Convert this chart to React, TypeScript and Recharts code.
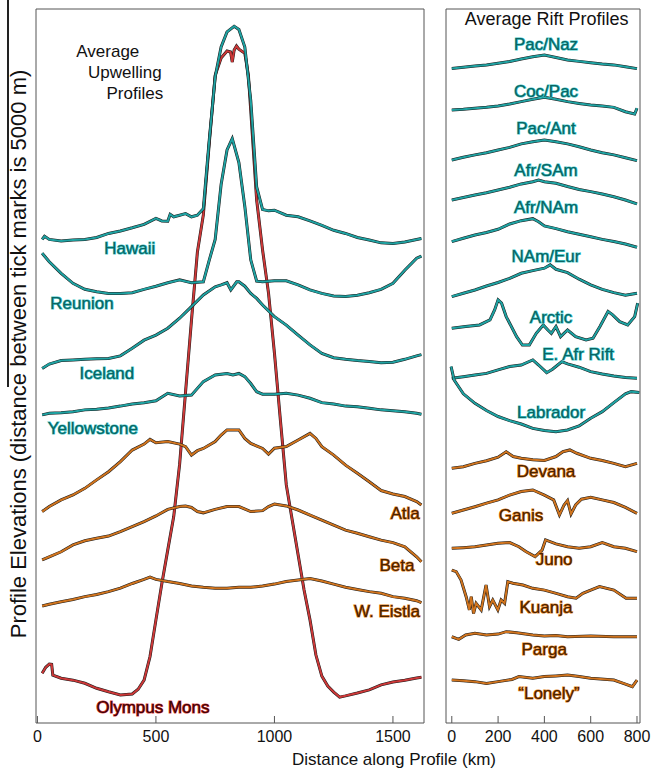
import { LineChart, Line, XAxis, YAxis, ReferenceDot, ReferenceLine } from "recharts";

type Pt = [number, number];

// elevations in km, already offset for stacking (left panel: 5 km between ticks)
const HAWAII: Pt[] = [[20,15.15],[30,15.25],[50,15.15],[100,15.10],[150,15.13],[200,15.15],[250,15.21],[300,15.34],[350,15.42],[400,15.52],[450,15.63],[500,15.82],[525,15.74],[550,15.73],[560,15.95],[575,15.87],[600,15.92],[625,15.97],[650,15.87],[675,15.92],[700,16.13],[725,18.31],[750,20.33],[775,21.28],[800,21.76],[830,21.94],[850,21.84],[875,21.28],[900,19.58],[925,16.82],[950,16.10],[975,16.06],[1000,16.08],[1050,15.92],[1100,15.87],[1150,15.74],[1200,15.60],[1250,15.44],[1300,15.34],[1350,15.21],[1400,15.13],[1450,15.04],[1500,15.02],[1550,15.07],[1600,15.15],[1620,15.18]];
const REUNION: Pt[] = [[20,14.71],[50,14.44],[100,14.07],[150,13.75],[200,13.56],[250,13.48],[300,13.43],[350,13.43],[400,13.45],[450,13.56],[500,13.66],[550,13.77],[600,13.86],[650,13.77],[700,13.80],[725,14.49],[750,15.15],[775,16.90],[800,18.00],[822,18.36],[850,17.60],[875,16.20],[900,14.50],[925,13.82],[950,13.80],[1000,13.83],[1050,13.83],[1100,13.70],[1150,13.54],[1200,13.43],[1250,13.35],[1300,13.33],[1350,13.37],[1400,13.45],[1450,13.56],[1500,13.75],[1550,14.17],[1600,14.55],[1620,14.62]];
const ICELAND: Pt[] = [[20,11.04],[50,11.18],[100,11.29],[150,11.31],[200,11.33],[250,11.35],[300,11.36],[350,11.44],[400,11.68],[450,11.94],[500,12.10],[550,12.32],[600,12.64],[650,13.01],[700,13.38],[750,13.64],[775,13.70],[800,13.77],[816,13.54],[841,13.80],[850,13.80],[875,13.66],[900,13.43],[925,13.27],[950,13.06],[1000,12.69],[1050,12.42],[1100,12.10],[1150,11.79],[1200,11.52],[1250,11.38],[1300,11.33],[1350,11.29],[1400,11.26],[1450,11.22],[1500,11.24],[1550,11.33],[1600,11.44],[1620,11.48]];
const YELLOWSTONE: Pt[] = [[20,9.56],[50,9.61],[100,9.63],[150,9.66],[200,9.72],[250,9.74],[300,9.78],[350,9.84],[400,9.91],[450,9.95],[500,10.01],[550,10.25],[600,10.16],[650,10.19],[700,10.62],[750,10.83],[800,10.88],[825,10.83],[850,10.88],[875,10.78],[900,10.56],[925,10.30],[950,10.22],[1000,10.22],[1050,10.25],[1100,10.19],[1150,10.09],[1200,9.95],[1250,9.91],[1300,9.84],[1350,9.82],[1400,9.77],[1450,9.72],[1500,9.69],[1550,9.66],[1600,9.61],[1620,9.58]];
const ATLA: Pt[] = [[20,6.48],[50,6.64],[100,6.85],[150,7.01],[200,7.22],[250,7.49],[300,7.75],[350,8.07],[400,8.44],[450,8.63],[475,8.78],[500,8.67],[550,8.71],[600,8.63],[625,8.55],[650,8.28],[675,8.42],[700,8.49],[750,8.71],[775,8.92],[800,9.08],[850,9.08],[875,8.81],[900,8.65],[950,8.49],[975,8.31],[1000,8.50],[1050,8.55],[1100,8.76],[1150,8.97],[1175,8.81],[1200,8.55],[1250,8.28],[1300,7.96],[1350,7.70],[1400,7.43],[1450,7.15],[1500,7.04],[1550,6.96],[1600,6.80],[1620,6.69]];
const BETA: Pt[] = [[20,4.94],[50,5.04],[100,5.20],[150,5.42],[200,5.55],[250,5.63],[300,5.70],[350,5.84],[400,6.00],[450,6.16],[500,6.34],[550,6.55],[600,6.64],[625,6.66],[650,6.61],[675,6.48],[700,6.44],[750,6.55],[800,6.64],[850,6.64],[900,6.48],[950,6.51],[975,6.64],[1000,6.72],[1050,6.66],[1100,6.53],[1150,6.37],[1200,6.21],[1250,6.05],[1300,5.89],[1350,5.79],[1400,5.68],[1450,5.57],[1500,5.49],[1550,5.36],[1600,5.04],[1620,4.88]];
const W_EISTLA: Pt[] = [[20,3.47],[50,3.53],[100,3.61],[150,3.68],[200,3.77],[250,3.84],[300,3.93],[350,4.04],[400,4.19],[450,4.32],[475,4.39],[500,4.32],[550,4.25],[600,4.19],[650,4.11],[700,4.07],[750,4.04],[800,4.04],[850,4.07],[900,4.07],[950,4.11],[1000,4.17],[1050,4.25],[1100,4.30],[1150,4.35],[1200,4.27],[1250,4.17],[1300,4.07],[1350,4.00],[1400,3.93],[1450,3.88],[1500,3.77],[1550,3.72],[1600,3.64],[1620,3.58]];
const OLYMPUS: Pt[] = [[20,1.33],[35,1.52],[50,1.62],[60,1.61],[65,1.27],[100,1.17],[150,1.11],[200,1.01],[250,0.85],[300,0.74],[350,0.64],[400,0.67],[425,0.82],[450,1.11],[475,1.86],[500,3.03],[525,4.19],[550,5.26],[575,6.32],[600,7.99],[625,10.29],[650,12.58],[675,14.75],[700,15.93],[725,18.22],[750,20.38],[775,20.93],[800,21.15],[815,21.12],[822,20.80],[830,21.18],[840,21.31],[850,21.21],[875,21.08],[890,20.38],[900,19.27],[925,16.40],[950,14.81],[975,13.44],[1000,11.53],[1025,9.40],[1050,7.33],[1075,6.21],[1100,5.10],[1125,3.98],[1150,3.03],[1175,1.91],[1200,1.24],[1225,0.92],[1250,0.73],[1275,0.57],[1300,0.61],[1350,0.70],[1400,0.80],[1450,0.96],[1500,1.05],[1550,1.11],[1600,1.18],[1620,1.20]];

// right panel (own vertical scale, 5 units between ticks)
const PAC_NAZ: Pt[] = [[0,29.75],[50,29.80],[100,29.86],[150,29.91],[200,29.98],[250,30.06],[300,30.18],[350,30.28],[400,30.36],[450,30.25],[500,30.13],[550,30.07],[600,30.01],[650,29.95],[700,29.91],[750,29.83],[800,29.74]];
const COC_PAC: Pt[] = [[0,27.86],[50,27.89],[100,27.94],[150,27.98],[200,28.04],[250,28.13],[300,28.24],[350,28.35],[400,28.44],[450,28.35],[500,28.24],[550,28.16],[600,28.09],[650,28.04],[700,27.98],[750,27.78],[790,27.68],[800,27.94]];
const PAC_ANT: Pt[] = [[0,25.59],[50,25.71],[100,25.82],[150,25.92],[200,26.04],[250,26.16],[300,26.32],[350,26.42],[400,26.50],[450,26.42],[500,26.32],[550,26.19],[600,26.04],[650,25.92],[700,25.82],[750,25.69],[800,25.56]];
const AFR_SAM: Pt[] = [[0,23.77],[50,23.88],[100,24.00],[150,24.10],[200,24.22],[250,24.35],[300,24.50],[350,24.60],[375,24.68],[400,24.60],[450,24.53],[500,24.38],[550,24.25],[600,24.15],[650,24.04],[700,23.92],[750,23.77],[800,23.59]];
const AFR_NAM: Pt[] = [[0,21.88],[50,22.03],[100,22.18],[150,22.29],[200,22.44],[250,22.68],[300,22.83],[350,22.92],[375,22.78],[400,22.59],[450,22.47],[500,22.33],[550,22.21],[600,22.10],[650,21.98],[700,21.88],[750,21.77],[800,21.62]];
const NAM_EUR: Pt[] = [[0,19.38],[50,19.53],[100,19.68],[150,19.86],[200,20.02],[250,20.21],[300,20.44],[350,20.56],[400,20.67],[425,20.82],[450,20.62],[500,20.47],[550,20.17],[600,19.91],[650,19.71],[700,19.56],[750,19.44],[800,19.53]];
const ARCTIC: Pt[] = [[0,17.94],[60,18.02],[120,18.09],[165,18.32],[185,18.77],[200,19.23],[215,19.08],[235,18.47],[280,17.56],[305,17.18],[335,17.18],[365,17.71],[395,18.09],[415,17.86],[430,17.71],[450,18.02],[470,17.56],[500,17.86],[535,17.56],[580,17.41],[610,17.49],[640,18.02],[675,18.70],[695,18.55],[725,18.24],[760,18.09],[790,18.47],[803,19.08]];
const E_AFR_RIFT: Pt[] = [[0,15.67],[50,15.74],[100,15.82],[150,15.89],[200,16.05],[250,16.20],[300,16.27],[350,16.50],[375,16.27],[410,15.92],[435,16.08],[475,16.42],[500,16.32],[550,16.17],[600,15.97],[650,15.86],[700,15.77],[750,15.70],[800,15.67]];
const LABRADOR: Pt[] = [[-3,16.20],[10,15.59],[50,14.96],[100,14.53],[150,14.20],[200,13.93],[250,13.74],[300,13.59],[350,13.39],[400,13.29],[450,13.24],[500,13.32],[550,13.50],[600,13.85],[650,14.15],[700,14.56],[750,14.96],[775,15.06],[810,15.02]];
const DEVANA: Pt[] = [[0,11.58],[50,11.65],[100,11.80],[150,11.92],[200,12.08],[235,12.33],[265,12.11],[300,12.03],[350,11.96],[400,11.93],[450,12.11],[480,12.33],[510,12.41],[540,12.26],[600,12.03],[650,11.93],[700,11.80],[750,11.65],[800,11.80]];
const GANIS: Pt[] = [[0,9.53],[50,9.68],[100,9.83],[150,9.99],[200,10.14],[250,10.36],[300,10.52],[350,10.59],[400,10.36],[440,10.14],[465,9.46],[485,9.91],[500,10.11],[515,9.50],[535,9.91],[560,10.17],[600,10.26],[650,10.14],[700,10.02],[750,9.80],[800,9.53]];
const JUNO: Pt[] = [[0,7.94],[50,7.97],[100,8.01],[150,8.09],[200,8.17],[250,8.20],[290,8.01],[320,7.79],[360,7.56],[390,7.86],[405,8.32],[450,8.14],[500,8.01],[550,7.94],[600,8.01],[650,8.20],[700,8.01],[750,7.94],[800,7.79]];
const KUANJA: Pt[] = [[0,6.95],[19,6.88],[40,6.50],[62,5.74],[76,5.14],[84,5.74],[94,4.98],[105,5.44],[127,5.14],[148,6.27],[163,5.29],[177,5.59],[199,5.14],[213,5.59],[228,5.44],[242,6.42],[264,6.35],[307,6.27],[350,6.12],[400,6.04],[451,5.89],[500,5.74],[537,5.67],[566,5.89],[600,6.04],[638,6.20],[700,6.04],[753,5.67],[800,5.67]];
const PARGA: Pt[] = [[0,3.92],[30,3.80],[60,4.00],[100,4.08],[150,4.00],[200,4.04],[235,4.15],[280,4.10],[350,4.00],[400,3.95],[450,3.98],[500,3.92],[600,3.95],[700,3.92],[800,3.92]];
const LONELY: Pt[] = [[0,1.95],[50,1.92],[100,1.88],[150,1.80],[200,1.88],[260,1.98],[290,2.11],[350,2.03],[400,2.11],[450,2.14],[500,2.18],[550,2.11],[600,2.03],[700,1.95],[750,1.77],[780,1.65],[800,1.95]];

const LEFT_X_TICKS = [0, 500, 1000, 1500];
const LEFT_TOP_TICKS = [113, 618, 1119];
const LEFT_Y_TICKS = [5, 10, 15, 20];
const RIGHT_X_TICKS = [0, 200, 400, 600, 800];
const RIGHT_Y_TICKS = [5, 10, 15, 20, 25, 30];

const LEFT_X_DOMAIN: [number, number] = [-6, 1631];
const LEFT_Y_DOMAIN: [number, number] = [-0.255, 22.49];
const RIGHT_X_DOMAIN: [number, number] = [-25, 813];
const RIGHT_Y_DOMAIN: [number, number] = [0, 32.45];

const TEAL = "#1fa2a2";
const BROWN = "#d0741e";
const RED = "#cc3838";
const FONT = "'Liberation Sans', Arial, sans-serif";

const TEXT_STYLE: Record<string, { fill: string; halo: string }> = {
  teal: { fill: "#0b6363", halo: "#3fc8c8" },
  brown: { fill: "#4a2200", halo: "#e08020" },
  red: { fill: "#3a0606", halo: "#e03a3a" },
  black: { fill: "#111", halo: "none" },
};

const LEFT_SERIES = [
  { name: "Olympus Mons", data: OLYMPUS, color: RED },
  { name: "W. Eistla", data: W_EISTLA, color: BROWN },
  { name: "Beta", data: BETA, color: BROWN },
  { name: "Atla", data: ATLA, color: BROWN },
  { name: "Yellowstone", data: YELLOWSTONE, color: TEAL },
  { name: "Iceland", data: ICELAND, color: TEAL },
  { name: "Reunion", data: REUNION, color: TEAL },
  { name: "Hawaii", data: HAWAII, color: TEAL },
];

const RIGHT_SERIES = [
  { name: "Pac/Naz", data: PAC_NAZ, color: TEAL },
  { name: "Coc/Pac", data: COC_PAC, color: TEAL },
  { name: "Pac/Ant", data: PAC_ANT, color: TEAL },
  { name: "Afr/SAm", data: AFR_SAM, color: TEAL },
  { name: "Afr/NAm", data: AFR_NAM, color: TEAL },
  { name: "NAm/Eur", data: NAM_EUR, color: TEAL },
  { name: "Arctic", data: ARCTIC, color: TEAL },
  { name: "E. Afr Rift", data: E_AFR_RIFT, color: TEAL },
  { name: "Labrador", data: LABRADOR, color: TEAL },
  { name: "Devana", data: DEVANA, color: BROWN },
  { name: "Ganis", data: GANIS, color: BROWN },
  { name: "Juno", data: JUNO, color: BROWN },
  { name: "Kuanja", data: KUANJA, color: BROWN },
  { name: "Parga", data: PARGA, color: BROWN },
  { name: "Lonely", data: LONELY, color: BROWN },
];

// annotation anchors in data units (km, offset elevation)
const LEFT_LABELS = [
  { text: "Average", x: 297, y: 21.15, kind: "black", size: 17 },
  { text: "Upwelling", x: 369, y: 20.48, kind: "black", size: 17 },
  { text: "Profiles", x: 411, y: 19.81, kind: "black", size: 17 },
  { text: "Hawaii", x: 390, y: 14.87, kind: "teal", size: 17 },
  { text: "Reunion", x: 188, y: 13.12, kind: "teal", size: 17 },
  { text: "Iceland", x: 293, y: 10.89, kind: "teal", size: 17 },
  { text: "Yellowstone", x: 234, y: 9.14, kind: "teal", size: 17 },
  { text: "Atla", x: 1551, y: 6.43, kind: "brown", size: 17 },
  { text: "Beta", x: 1517, y: 4.75, kind: "brown", size: 17 },
  { text: "W. Eistla", x: 1475, y: 3.31, kind: "brown", size: 17 },
  { text: "Olympus Mons", x: 487, y: 0.25, kind: "red", size: 17 },
];

const RIGHT_LABELS = [
  { text: "Average Rift Profiles", x: 410, y: 32.0, kind: "black", size: 18 },
  { text: "Pac/Naz", x: 407, y: 30.82, kind: "teal", size: 17 },
  { text: "Coc/Pac", x: 407, y: 28.68, kind: "teal", size: 17 },
  { text: "Pac/Ant", x: 407, y: 27.0, kind: "teal", size: 17 },
  { text: "Afr/SAm", x: 407, y: 25.13, kind: "teal", size: 17 },
  { text: "Afr/NAm", x: 407, y: 23.41, kind: "teal", size: 17 },
  { text: "NAm/Eur", x: 407, y: 21.18, kind: "teal", size: 17 },
  { text: "Arctic", x: 429, y: 18.45, kind: "teal", size: 17 },
  { text: "E. Afr Rift", x: 546, y: 16.73, kind: "teal", size: 17 },
  { text: "Labrador", x: 429, y: 14.09, kind: "teal", size: 17 },
  { text: "Devana", x: 407, y: 11.41, kind: "brown", size: 17 },
  { text: "Ganis", x: 299, y: 9.45, kind: "brown", size: 17 },
  { text: "Juno", x: 442, y: 7.41, kind: "brown", size: 17 },
  { text: "Kuanja", x: 407, y: 5.27, kind: "brown", size: 17 },
  { text: "Parga", x: 399, y: 3.32, kind: "brown", size: 17 },
  { text: "\u201cLonely\u201d", x: 420, y: 1.36, kind: "brown", size: 17 },
];

const toRows = (pts: Pt[]) => pts.map(([x, y]) => ({ x, y }));

function renderLabel(text: string, kind: string, size: number) {
  const s = TEXT_STYLE[kind];
  return (props: any) => (
    <text
      x={props.cx}
      y={props.cy}
      textAnchor="middle"
      dominantBaseline="central"
      fontFamily={FONT}
      fontSize={size}
      fill={s.fill}
      stroke={s.halo}
      strokeWidth={s.halo === "none" ? 0 : 1.2}
      paintOrder="stroke"
    >
      {text}
    </text>
  );
}

const axisStroke = "#555";

const makeTick = (labelled: number[]) => (props: any) => (
  <text x={props.x} y={props.y} dy={12} textAnchor="middle" fontSize={16} fill="#111" fontFamily={FONT}>
    {labelled.includes(props.payload.value) ? props.payload.value : ""}
  </text>
);

function profileLines(series: { name: string; data: Pt[]; color: string }[]) {
  return series.flatMap((s) => [
    <Line key={s.name + "-k"} data={toRows(s.data)} dataKey="y" type="linear" stroke="#1a1a1a" strokeWidth={3} dot={false} isAnimationActive={false} />,
    <Line key={s.name + "-c"} data={toRows(s.data)} dataKey="y" type="linear" stroke={s.color} strokeWidth={2} dot={false} isAnimationActive={false} />,
  ]);
}

export default function App() {
  return (
    <div style={{ position: "absolute", left: 0, top: 0, width: 656, height: 772, background: "#fff", fontFamily: FONT }}>
      <div style={{ position: "absolute", left: 0, top: 0 }}>
        <LineChart width={436} height={772} margin={{ top: 8, right: 11, bottom: 48, left: 35 }}>
          <XAxis xAxisId="top" orientation="top" dataKey="x" type="number" domain={LEFT_X_DOMAIN} ticks={LEFT_TOP_TICKS} interval={0} allowDataOverflow height={1}
            tickSize={-6} tick={false} stroke={axisStroke} />
          {/* the axis keeps the inward tick marks; its labels are drawn by the reference lines below */}
          <XAxis xAxisId={0} orientation="bottom" dataKey="x" type="number" domain={LEFT_X_DOMAIN} ticks={LEFT_X_TICKS} interval={0} allowDataOverflow height={1}
            tickSize={-7} tickMargin={14} stroke={axisStroke} tick={makeTick([])} />
          <YAxis type="number" domain={LEFT_Y_DOMAIN} ticks={LEFT_Y_TICKS} interval={0} allowDataOverflow width={1} tickSize={-6} tick={false} stroke={axisStroke} />
          <YAxis yAxisId="r" orientation="right" type="number" domain={LEFT_Y_DOMAIN} ticks={LEFT_Y_TICKS} interval={0} allowDataOverflow width={1} tickSize={-6} tick={false} stroke={axisStroke} />
          {profileLines(LEFT_SERIES)}
          {LEFT_X_TICKS.map((v) => (
            <ReferenceLine key={"xl" + v} x={v} stroke="none" ifOverflow="visible"
              label={{ value: String(v), position: "bottom", offset: 8, fontSize: 16, fill: "#111", fontFamily: FONT }} />
          ))}
          {LEFT_LABELS.map((l) => (
            <ReferenceDot key={l.text} x={l.x} y={l.y} r={0} shape={renderLabel(l.text, l.kind, l.size)} />
          ))}
        </LineChart>
      </div>
      <div style={{ position: "absolute", left: 436, top: 0 }}>
        <LineChart width={220} height={772} margin={{ top: 8, right: 15, bottom: 48, left: 9 }}>
          <XAxis dataKey="x" type="number" domain={RIGHT_X_DOMAIN} ticks={RIGHT_X_TICKS} interval={0} allowDataOverflow height={1}
            tickSize={-7} tickMargin={14} stroke={axisStroke} tick={makeTick(RIGHT_X_TICKS)} />
          <XAxis xAxisId="top" orientation="top" dataKey="x" type="number" domain={RIGHT_X_DOMAIN} ticks={[900]} allowDataOverflow height={1}
            tickSize={0} tick={false} stroke={axisStroke} />
          <YAxis type="number" domain={RIGHT_Y_DOMAIN} ticks={RIGHT_Y_TICKS} interval={0} allowDataOverflow width={1} tickSize={-6} tick={false} stroke={axisStroke} />
          <YAxis yAxisId="r" orientation="right" type="number" domain={RIGHT_Y_DOMAIN} ticks={RIGHT_Y_TICKS} interval={0} allowDataOverflow width={1} tickSize={-6} tick={false} stroke={axisStroke} />
          {profileLines(RIGHT_SERIES)}
          {RIGHT_LABELS.map((l) => (
            <ReferenceDot key={l.text} x={l.x} y={l.y} r={0} shape={renderLabel(l.text, l.kind, l.size)} />
          ))}
        </LineChart>
      </div>
      <div style={{ position: "absolute", left: 7, top: 0, width: 1.5, height: 387, background: "#222" }} />
      <div
        style={{
          position: "absolute", left: 19, top: 354, transform: "translate(-50%, -50%) rotate(-90deg)",
          whiteSpace: "nowrap", fontSize: 22, color: "#111",
        }}
      >
        Profile Elevations (distance between tick marks is 5000 m)
      </div>
      <div
        style={{
          position: "absolute", left: 394, top: 760, transform: "translate(-50%, -50%)",
          whiteSpace: "nowrap", fontSize: 17, color: "#111",
        }}
      >
        Distance along Profile (km)
      </div>
    </div>
  );
}
